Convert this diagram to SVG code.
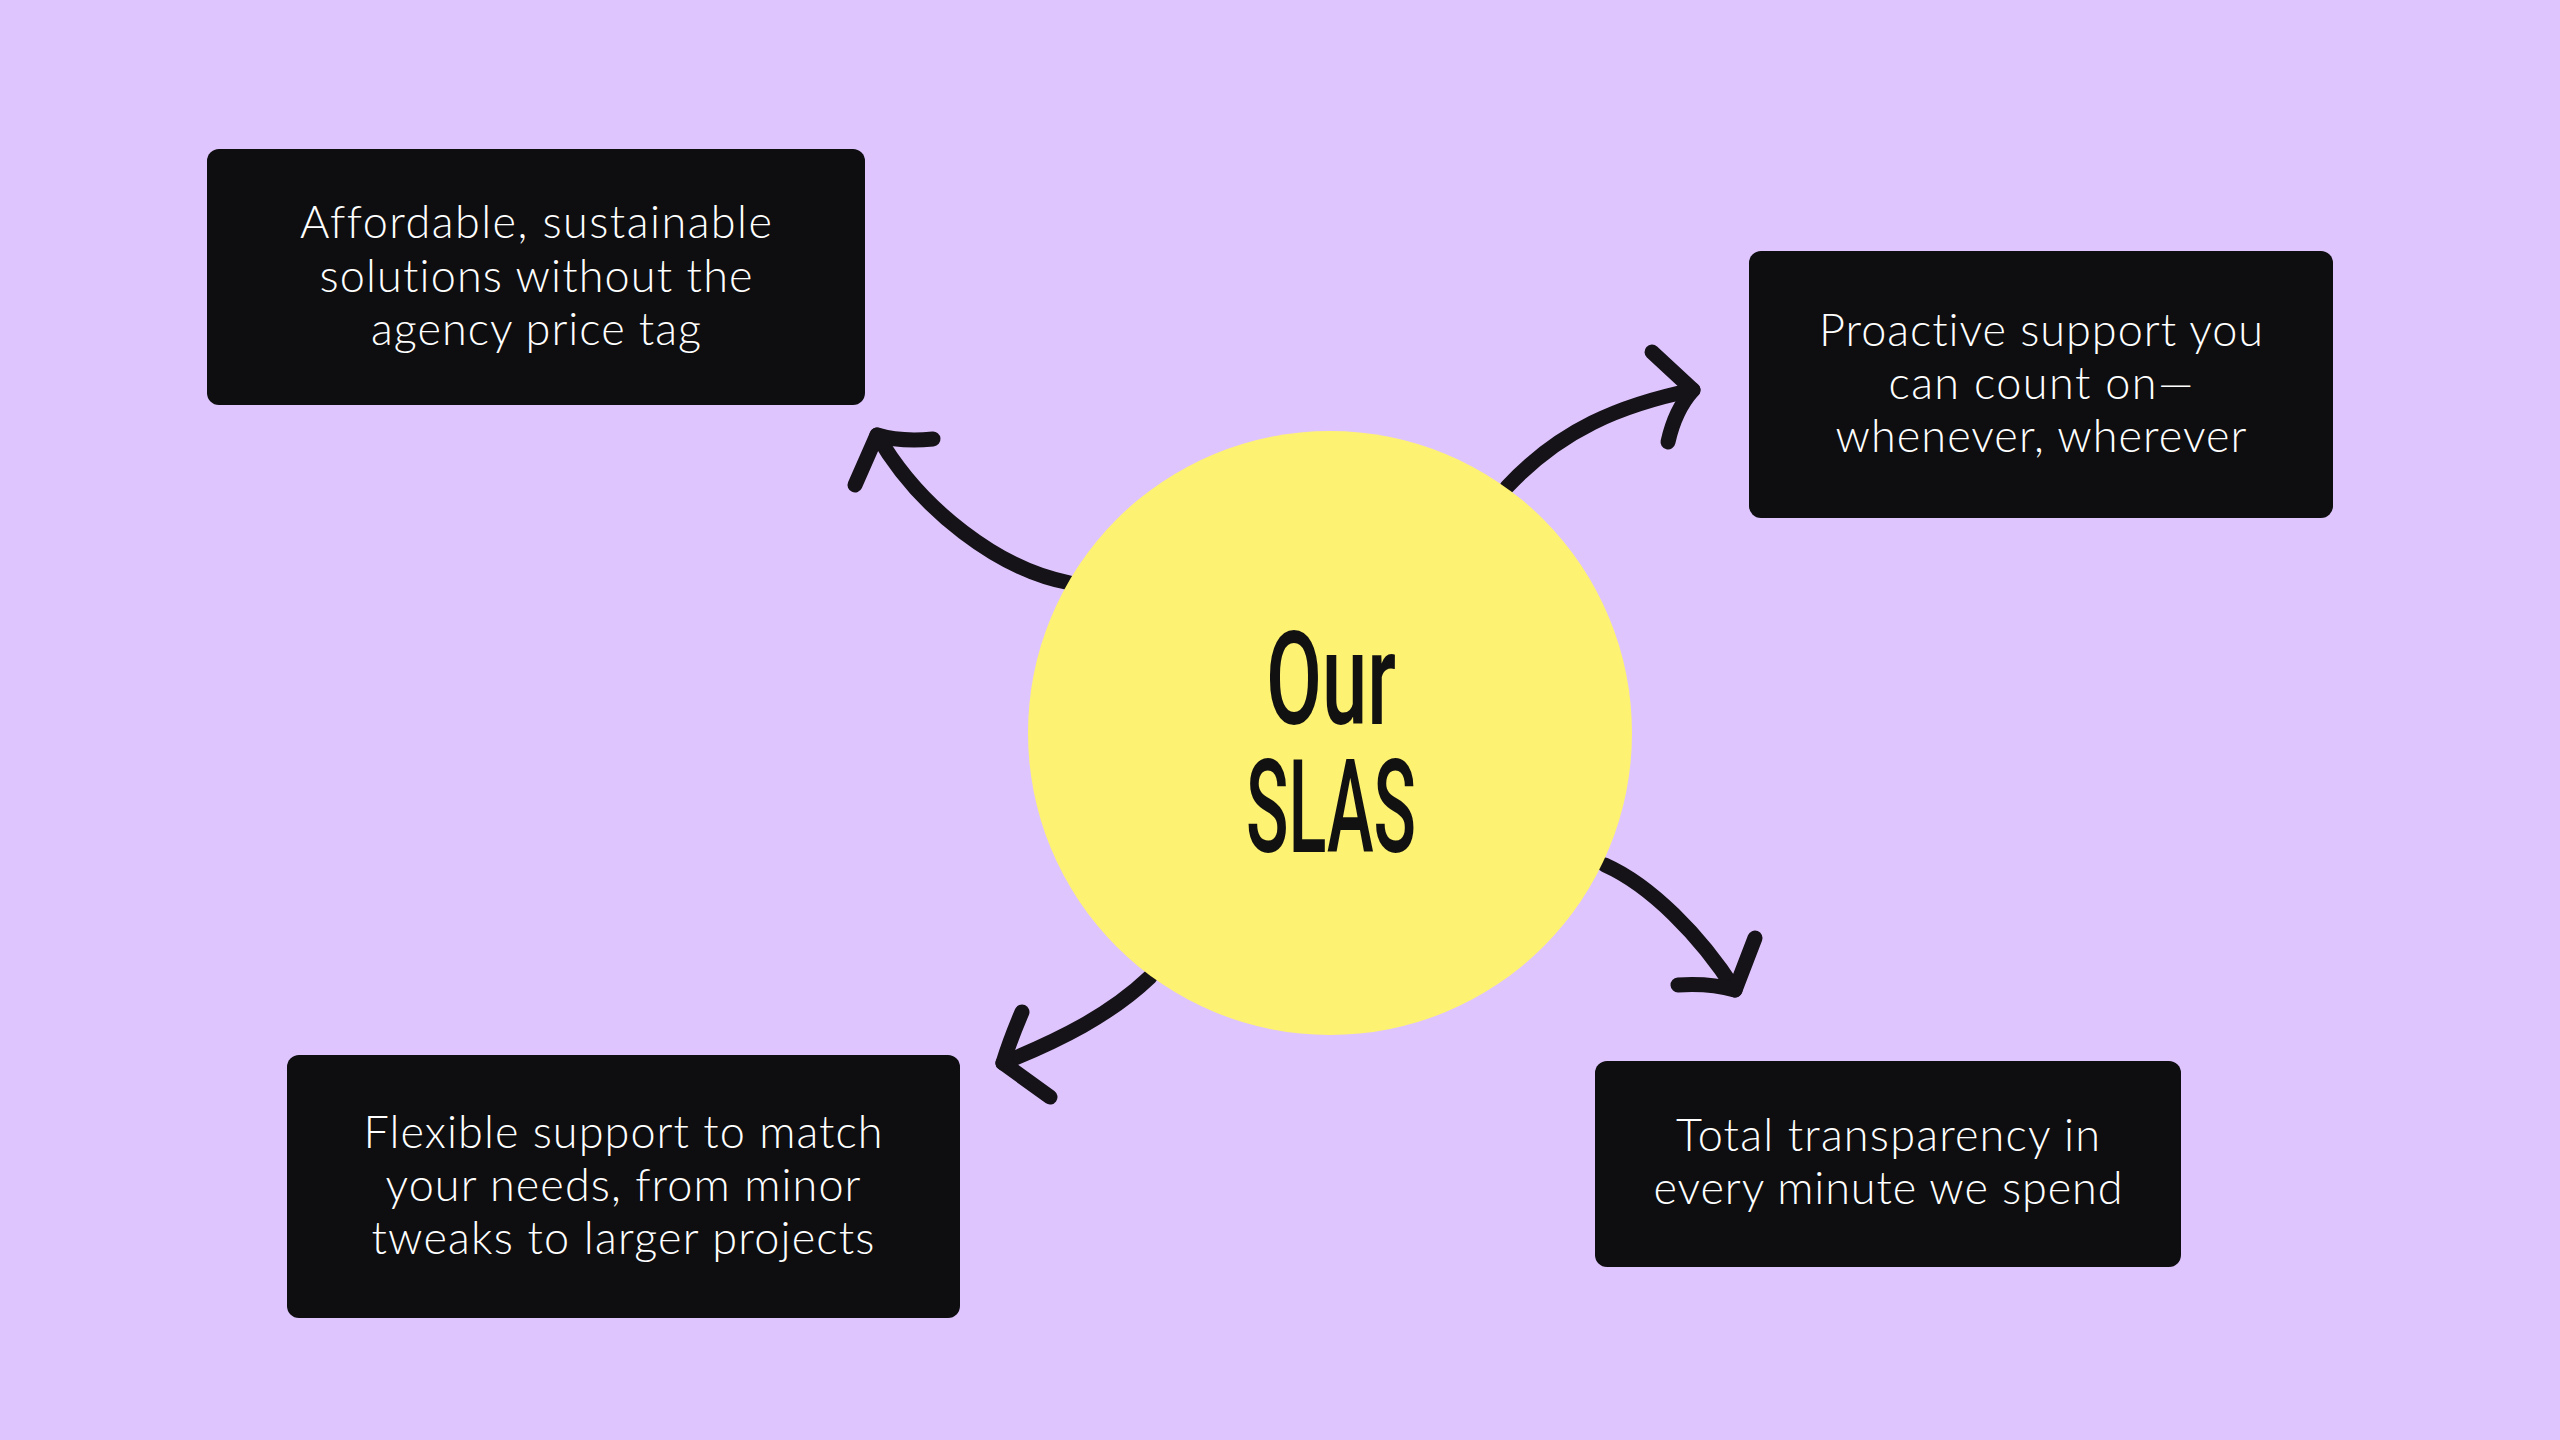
<svg xmlns="http://www.w3.org/2000/svg" width="2560" height="1440" viewBox="0 0 2560 1440">
  <style>
    .box { fill: #0e0e10; }
    .lbl { font-family: "Lato", "Open Sans", "Liberation Sans", sans-serif; font-weight: 300; font-size: 45px; fill: #ffffff; text-anchor: middle; font-variant-ligatures: none; }
    .arrow { fill: none; stroke: #151218; stroke-width: 15; stroke-linecap: round; stroke-linejoin: round; }
    .title { font-family: "Roboto", "Liberation Sans", sans-serif; font-weight: 500; font-size: 129px; fill: #111111; text-anchor: middle; }
  </style>
  <rect width="2560" height="1440" fill="#dfc5fd"/>
  <g id="connectors">
    <g id="arrow-top-left">
      <path class="arrow" d="M1070,583 C1000,570 920,510 877,435"/>
      <path class="arrow" d="M855,485 L877,435 Q900,442 933,439"/>
    </g>
    <g id="arrow-top-right">
      <path class="arrow" d="M1507,487 C1560,430 1620,405 1693,390"/>
      <path class="arrow" d="M1652,352 L1693,390 Q1675,410 1668,442"/>
    </g>
    <g id="arrow-bottom-right">
      <path class="arrow" d="M1605,865 C1650,885 1700,935 1735,990"/>
      <path class="arrow" d="M1755,938 L1735,990 Q1710,983 1678,985"/>
    </g>
    <g id="arrow-bottom-left">
      <path class="arrow" d="M1150,977 C1110,1015 1060,1040 1003,1063"/>
      <path class="arrow" d="M1022,1012 Q1010,1040 1003,1063 L1050,1097"/>
    </g>
  </g>
  <g id="center">
    <circle cx="1330" cy="733" r="302" fill="#fef272"/>
    <text class="title" x="1331" y="724" textLength="130" lengthAdjust="spacingAndGlyphs">Our</text>
    <text class="title" x="1331" y="852" textLength="170" lengthAdjust="spacingAndGlyphs">SLAS</text>
  </g>
  <g id="node-affordable">
    <rect class="box" x="207" y="149" width="658" height="256" rx="12"/>
    <text class="lbl" x="536" y="238" textLength="472">Affordable, sustainable</text>
    <text class="lbl" x="536" y="292" textLength="433">solutions without the</text>
    <text class="lbl" x="536" y="345" textLength="330">agency price tag</text>
  </g>
  <g id="node-proactive">
    <rect class="box" x="1749" y="251" width="584" height="267" rx="12"/>
    <text class="lbl" x="2041" y="346" textLength="444">Proactive support you</text>
    <text class="lbl" x="2041" y="399" textLength="305">can count on—</text>
    <text class="lbl" x="2041" y="452" textLength="411">whenever, wherever</text>
  </g>
  <g id="node-flexible">
    <rect class="box" x="287" y="1055" width="673" height="263" rx="12"/>
    <text class="lbl" x="623" y="1148" textLength="519">Flexible support to match</text>
    <text class="lbl" x="623" y="1201" textLength="475">your needs, from minor</text>
    <text class="lbl" x="623" y="1254" textLength="503">tweaks to larger projects</text>
  </g>
  <g id="node-transparency">
    <rect class="box" x="1595" y="1061" width="586" height="206" rx="12"/>
    <text class="lbl" x="1888" y="1151" textLength="424">Total transparency in</text>
    <text class="lbl" x="1888" y="1204" textLength="469">every minute we spend</text>
  </g>
</svg>
